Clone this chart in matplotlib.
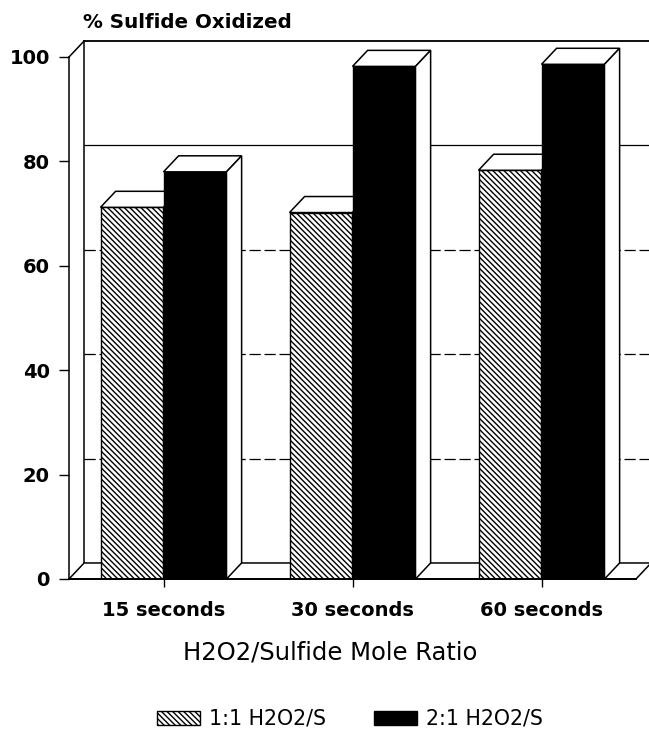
import matplotlib
matplotlib.use("Agg")
import matplotlib.pyplot as plt
from matplotlib.patches import Polygon
import numpy as np

# ---- data ----
categories = ["15 seconds", "30 seconds", "60 seconds"]
series_names = ["1:1 H2O2/S", "2:1 H2O2/S"]
ratio_1_1 = [71.2, 70.2, 78.3]
ratio_2_1 = [78.0, 98.2, 98.6]
y_ticks = [0, 20, 40, 60, 80, 100]
y_label = "% Sulfide Oxidized"
x_label = "H2O2/Sulfide Mole Ratio"

plt.rcParams['font.family'] = ['DejaVu Sans']
plt.rcParams['hatch.linewidth'] = 1.0

W, H = 649, 730
fig = plt.figure(figsize=(W / 100, H / 100), dpi=100)
ax = fig.add_axes([69 / W, (H - 579) / H, 567 / W, 522 / H])
ax.set_xlim(0, 3)
ax.set_ylim(0, 100)

DX = 0.08   # depth offset (x units)
DY = 3.07   # depth offset (y units)
LW = 1.1

# back wall / floor
x0w, x1w = DX, 3 + DX
ax.plot([x0w, x0w], [DY, 100 + DY], color='black', lw=LW, clip_on=False, zorder=1)
ax.plot([x0w, x1w + 0.2], [100 + DY, 100 + DY], color='black', lw=LW * 1.2, clip_on=False, zorder=1)
ax.plot([0, DX], [100, 100 + DY], color='black', lw=LW, clip_on=False, zorder=1)
floor = Polygon([(0, 0), (3, 0), (3 + DX, DY), (DX, DY)], closed=True,
                facecolor='white', edgecolor='black', lw=LW, clip_on=False, zorder=1)
ax.add_patch(floor)
for v in y_ticks[1:-1]:
    ls = '-' if v == 80 else (0, (9, 3))
    ax.plot([x0w, x1w + 0.2], [v + DY, v + DY], color='black', lw=0.9,
            linestyle=ls, clip_on=False, zorder=1.5)

# bars
n = len(categories)
centers = np.arange(n) + 0.5
w = 1 / 3
b1 = ax.bar(centers - w / 2, ratio_1_1, width=w, facecolor='white', edgecolor='black',
            hatch='\\\\\\\\\\\\', linewidth=1.0, label=series_names[0], zorder=3)
b2 = ax.bar(centers + w / 2, ratio_2_1, width=w, facecolor='black', edgecolor='black',
            linewidth=1.0, label=series_names[1], zorder=5)

def add_3d(container, z):
    for p in container.patches:
        x0 = p.get_x()
        ww = p.get_width()
        h = p.get_height()
        top = Polygon([(x0, h), (x0 + ww, h), (x0 + ww + DX, h + DY), (x0 + DX, h + DY)],
                      closed=True, facecolor='white', edgecolor='black', lw=LW,
                      clip_on=False, zorder=z)
        side = Polygon([(x0 + ww, 0), (x0 + ww + DX, DY), (x0 + ww + DX, h + DY), (x0 + ww, h)],
                       closed=True, facecolor='white', edgecolor='black', lw=LW,
                       clip_on=False, zorder=z)
        ax.add_patch(top)
        ax.add_patch(side)

add_3d(b1, 3.5)
add_3d(b2, 5.5)

# axes styling
for s in ['top', 'right']:
    ax.spines[s].set_visible(False)
ax.spines['left'].set_linewidth(LW)
ax.spines['bottom'].set_linewidth(LW * 1.3)
ax.spines['left'].set_zorder(6)
ax.spines['bottom'].set_zorder(6)

ax.set_yticks(y_ticks)
ax.set_yticklabels([str(t) for t in y_ticks], fontsize=14, fontweight='bold')
ax.tick_params(axis='y', direction='out', length=7.2, width=1.0, pad=6.5)
ax.set_xticks(centers)
ax.set_xticklabels(categories, fontsize=14, fontweight='bold')
ax.tick_params(axis='x', direction='out', length=5.8, width=1.0, pad=10)

ax.set_ylabel(y_label, rotation=0, fontsize=14.3, fontweight='bold', ha='left', va='baseline')
ax.yaxis.set_label_coords((83 - 69) / 567, (579 - 28) / 522)
ax.set_xlabel(x_label, fontsize=17.5, va='center')
ax.xaxis.set_label_coords((330 - 69) / 567, (579 - 653) / 522)

fig.legend(handles=[b1, b2], labels=series_names, loc='center',
           bbox_to_anchor=(350 / W, 1 - 719 / H), ncol=2, frameon=False,
           fontsize=14.8, handlelength=2.1, handleheight=0.7, handletextpad=0.45,
           columnspacing=2.3)

fig.savefig("out.png", dpi=100)
